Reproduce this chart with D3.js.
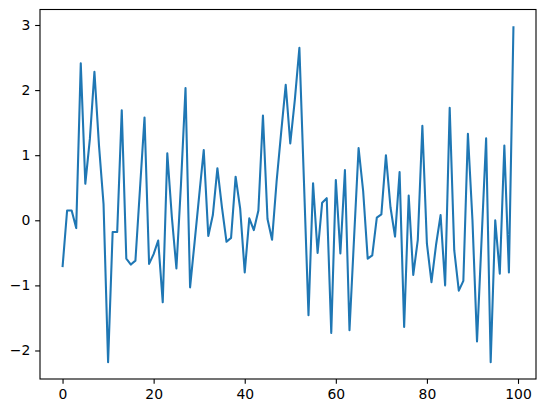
<!DOCTYPE html>
<html>
<head>
<meta charset="utf-8">
<script src="https://cdn.jsdelivr.net/npm/d3@7"></script>
<style>
  html, body { margin: 0; padding: 0; background: #fff; }
  svg { display: block; }
  .tick text { font-family: "DejaVu Sans", sans-serif; font-size: 13.9px; fill: #000; }
  .tick line { stroke: #000; stroke-width: 1.1px; }
</style>
</head>
<body>
<svg id="chart" width="546" height="413"></svg>
<script>
const values = [
  -0.72, 0.15, 0.15, -0.12, 2.41, 0.56, 1.25, 2.28, 1.15, 0.25,
  -2.18, -0.18, -0.18, 1.69, -0.59, -0.68, -0.62, 0.48, 1.58, -0.67,
  -0.52, -0.31, -1.26, 1.03, 0.05, -0.74, 0.55, 2.03, -1.03, -0.33,
  0.38, 1.08, -0.24, 0.08, 0.80, 0.20, -0.33, -0.27, 0.67, 0.18,
  -0.80, 0.03, -0.15, 0.15, 1.61, 0.02, -0.30, 0.60, 1.35, 2.08,
  1.18, 1.85, 2.65, 0.60, -1.46, 0.57, -0.50, 0.27, 0.34, -1.73,
  0.62, -0.51, 0.77, -1.69, -0.28, 1.11, 0.45, -0.59, -0.54, 0.04,
  0.09, 1.00, 0.20, -0.25, 0.74, -1.64, 0.38, -0.84, -0.30, 1.45,
  -0.36, -0.95, -0.38, 0.08, -1.00, 1.73, -0.46, -1.08, -0.93, 1.33,
  0.00, -1.86, -0.30, 1.26, -2.18, 0.00, -0.82, 1.15, -0.80, 2.98
];
const xIndex = values.map((_, i) => i);
const xTicks = [0, 20, 40, 60, 80, 100];
const yTicks = [-2, -1, 0, 1, 2, 3];

const svg = d3.select("#chart");
const mLeft = 40, mRight = 536, mTop = 9.5, mBottom = 379;

const xMin = d3.min(xIndex), xMax = d3.max(xIndex);
const xPad = (xMax - xMin) * 0.05;
const yMin = d3.min(values), yMax = d3.max(values);
const yPad = (yMax - yMin) * 0.05;

const x = d3.scaleLinear().domain([xMin - xPad, xMax + xPad]).range([mLeft, mRight]);
const y = d3.scaleLinear().domain([yMin - yPad, yMax + yPad]).range([mBottom, mTop]);

const line = d3.line().x((d, i) => x(xIndex[i])).y(d => y(d));

svg.append("path")
  .datum(values)
  .attr("fill", "none")
  .attr("stroke", "#1f77b4")
  .attr("stroke-width", 2.08)
  .attr("stroke-linejoin", "round")
  .attr("stroke-linecap", "butt")
  .attr("d", line);

const tickLen = 4.86, tickPad = 4.86;

const xAxis = svg.append("g")
  .attr("transform", `translate(0,${mBottom})`)
  .call(d3.axisBottom(x).tickValues(xTicks).tickFormat(d3.format("d")).tickSize(tickLen).tickPadding(tickPad));
xAxis.select(".domain").remove();

const yAxis = svg.append("g")
  .attr("transform", `translate(${mLeft},0)`)
  .call(d3.axisLeft(y).tickValues(yTicks).tickFormat(d3.format("d")).tickSize(tickLen).tickPadding(tickPad));
yAxis.select(".domain").remove();

svg.append("rect")
  .attr("x", mLeft).attr("y", mTop)
  .attr("width", mRight - mLeft).attr("height", mBottom - mTop)
  .attr("fill", "none")
  .attr("stroke", "#000")
  .attr("stroke-width", 1.1);
</script>
</body>
</html>
